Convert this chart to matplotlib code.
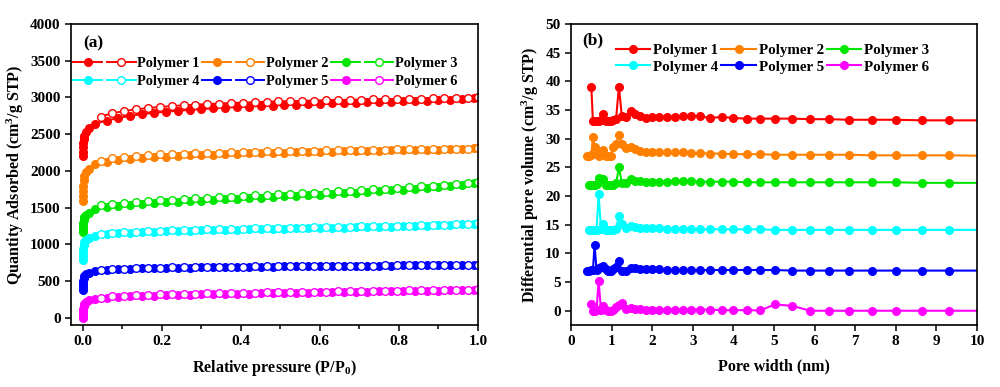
import numpy as np
import matplotlib
matplotlib.use("Agg")
import matplotlib.pyplot as plt
from matplotlib.lines import Line2D
from matplotlib.legend_handler import HandlerTuple

plt.rcParams["font.family"] = ["Liberation Serif", "DejaVu Serif"]
plt.rcParams["font.weight"] = "bold"
plt.rcParams["mathtext.fontset"] = "custom"
plt.rcParams["mathtext.rm"] = "Liberation Serif:bold"
plt.rcParams["mathtext.it"] = "Liberation Serif:bold"
plt.rcParams["mathtext.bf"] = "Liberation Serif:bold"

names = ["Polymer 1", "Polymer 2", "Polymer 3", "Polymer 4", "Polymer 5", "Polymer 6"]
colors = ["#FF0000", "#FF8000", "#00E600", "#00FFFF", "#0000FF", "#FF00FF"]

# ---- (a) N2 isotherms ----
low_p = [0.00001, 0.0001, 0.0005, 0.001, 0.002, 0.004, 0.008, 0.015]
ads_p = [0.03, 0.06, 0.09, 0.12, 0.15, 0.18, 0.21, 0.24, 0.27, 0.30, 0.33,
         0.36, 0.39, 0.42, 0.45, 0.48, 0.51, 0.54, 0.57, 0.60, 0.63, 0.66,
         0.69, 0.72, 0.75, 0.78, 0.81, 0.84, 0.87, 0.90, 0.93, 0.96, 0.99]
des_p = [0.045, 0.075, 0.105, 0.135, 0.165, 0.195, 0.225, 0.255, 0.285, 0.315,
         0.345, 0.375, 0.405, 0.435, 0.465, 0.495, 0.525, 0.555, 0.585, 0.615,
         0.645, 0.675, 0.705, 0.735, 0.765, 0.795, 0.825, 0.855, 0.885, 0.915,
         0.945, 0.975, 1.0]

low_q = [
    [2200, 2260, 2320, 2380, 2430, 2480, 2530, 2580],
    [1590, 1660, 1730, 1800, 1870, 1930, 1980, 2030],
    [1170, 1210, 1250, 1290, 1330, 1370, 1400, 1430],
    [790, 840, 890, 940, 990, 1030, 1060, 1090],
    [380, 420, 460, 500, 540, 570, 595, 615],
    [0, 40, 80, 120, 160, 190, 215, 235],
]
ads_q = [
    [2640, 2685, 2720, 2750, 2772, 2790, 2805, 2818, 2830, 2841, 2851, 2860,
     2868, 2876, 2883, 2890, 2896, 2902, 2908, 2913, 2918, 2923, 2928, 2933,
     2938, 2943, 2948, 2953, 2958, 2963, 2970, 2978, 2990],
    [2090, 2120, 2145, 2162, 2175, 2186, 2195, 2203, 2210, 2216, 2222, 2227,
     2232, 2237, 2241, 2245, 2249, 2253, 2256, 2260, 2263, 2266, 2269, 2272,
     2275, 2278, 2281, 2284, 2287, 2290, 2294, 2298, 2305],
    [1480, 1505, 1525, 1540, 1552, 1562, 1571, 1580, 1588, 1596, 1604, 1612,
     1620, 1628, 1636, 1644, 1652, 1660, 1668, 1677, 1686, 1695, 1704, 1714,
     1724, 1734, 1745, 1756, 1768, 1781, 1796, 1813, 1835],
    [1115, 1135, 1148, 1158, 1165, 1171, 1176, 1181, 1185, 1189, 1193, 1197,
     1200, 1204, 1207, 1210, 1213, 1216, 1219, 1222, 1225, 1228, 1231, 1234,
     1237, 1240, 1244, 1248, 1252, 1257, 1263, 1270, 1282],
    [635, 650, 660, 666, 671, 675, 678, 681, 684, 686, 688, 690, 692, 694,
     695, 697, 698, 700, 701, 703, 704, 705, 707, 708, 709, 710, 712, 713,
     714, 716, 717, 719, 722],
    [250, 270, 282, 290, 296, 301, 305, 309, 313, 317, 320, 323, 326, 329,
     332, 335, 338, 341, 343, 346, 348, 351, 353, 355, 358, 360, 362, 365,
     367, 370, 372, 375, 380],
]
des_q = [
    [2740, 2785, 2815, 2838, 2856, 2870, 2882, 2893, 2902, 2910, 2917, 2924,
     2930, 2936, 2941, 2946, 2950, 2954, 2958, 2962, 2965, 2968, 2971, 2974,
     2977, 2979, 2982, 2984, 2987, 2990, 2993, 2996, 3000],
    [2140, 2170, 2190, 2204, 2215, 2223, 2230, 2236, 2241, 2246, 2250, 2254,
     2258, 2261, 2264, 2267, 2270, 2273, 2275, 2278, 2280, 2283, 2285, 2287,
     2289, 2291, 2293, 2295, 2297, 2299, 2301, 2303, 2306],
    [1530, 1550, 1565, 1578, 1589, 1599, 1608, 1617, 1625, 1633, 1641, 1649,
     1657, 1665, 1673, 1681, 1689, 1697, 1705, 1713, 1721, 1730, 1739, 1748,
     1757, 1767, 1777, 1788, 1799, 1811, 1823, 1836, 1850],
    [1140, 1155, 1166, 1174, 1180, 1186, 1191, 1195, 1199, 1203, 1207, 1210,
     1213, 1216, 1219, 1222, 1225, 1228, 1231, 1234, 1237, 1240, 1243, 1246,
     1249, 1252, 1256, 1260, 1264, 1269, 1274, 1280, 1290],
    [655, 664, 670, 675, 679, 682, 685, 688, 690, 692, 694, 696, 697, 699,
     700, 702, 703, 704, 706, 707, 708, 709, 710, 711, 712, 713, 714, 715,
     716, 717, 718, 720, 724],
    [275, 290, 300, 307, 312, 317, 321, 325, 328, 331, 334, 337, 340, 343,
     345, 348, 350, 353, 355, 357, 359, 362, 364, 366, 368, 370, 372, 374,
     376, 378, 380, 382, 385],
]

# ---- (b) pore size distributions ----
nan = np.nan
psd_x = [0.40, 0.45, 0.50, 0.54, 0.58, 0.63, 0.68, 0.74, 0.80, 0.86, 0.92,
         0.98, 1.04, 1.11, 1.18, 1.25, 1.35, 1.47, 1.58, 1.70, 1.85, 2.00,
         2.17, 2.37, 2.56, 2.75, 2.95, 3.18, 3.42, 3.71, 4.00, 4.33, 4.66,
         5.02, 5.45, 5.89, 6.35, 6.85, 7.41, 8.00, 8.64, 9.32, 10.3]
psd_y = [
    [nan, nan, 39.1, 33.0, 33.0, 33.0, 33.1, 33.2, 34.3, 33.0, 33.0, 33.0,
     33.2, 33.4, 39.1, 34.0, 33.8, 34.8, 34.3, 33.9, 33.6, 33.7, 33.8, 33.8,
     33.8, 33.9, 34.0, 33.9, 33.6, 33.8, 33.6, 33.5, 33.5, 33.5, 33.5, 33.4,
     33.4, 33.3, 33.3, 33.3, 33.2, 33.2, 33.2],
    [27.0, 27.0, 27.2, 30.3, 28.6, 27.3, 27.0, 27.6, 28.1, 27.0, 27.0, 27.0,
     28.6, 29.0, 30.6, 29.0, 28.3, 28.5, 28.2, 27.8, 27.7, 27.7, 27.7, 27.6,
     27.6, 27.6, 27.5, 27.5, 27.4, 27.4, 27.3, 27.3, 27.3, 27.2, 27.2, 27.2,
     27.2, 27.2, 27.1, 27.1, 27.1, 27.1, 27.0],
    [nan, 22.0, 22.0, 22.0, 22.0, 22.1, 23.1, 23.0, 23.0, 22.0, 22.0, 22.0,
     22.0, 22.2, 25.0, 22.3, 22.3, 23.0, 22.7, 22.6, 22.5, 22.5, 22.5, 22.5,
     22.6, 22.6, 22.6, 22.5, 22.5, 22.5, 22.5, 22.4, 22.4, 22.4, 22.4, 22.4,
     22.4, 22.4, 22.4, 22.4, 22.3, 22.3, 22.3],
    [nan, 14.0, 14.0, 14.0, 14.0, 14.1, 20.3, 14.2, 15.1, 14.0, 14.0, 14.0,
     14.0, 14.3, 16.6, 15.2, 14.5, 14.8, 14.6, 14.5, 14.4, 14.4, 14.4, 14.3,
     14.3, 14.3, 14.3, 14.2, 14.2, 14.2, 14.2, 14.2, 14.2, 14.1, 14.1, 14.1,
     14.1, 14.1, 14.1, 14.1, 14.1, 14.1, 14.1],
    [7.0, 7.0, 7.1, 7.1, 11.4, 7.1, 7.4, 7.6, 7.8, 7.3, 6.9, 6.9,
     7.3, 7.6, 8.6, 7.0, 7.0, 7.4, 7.4, 7.3, 7.2, 7.2, 7.2, 7.1,
     7.1, 7.1, 7.1, 7.1, 7.1, 7.1, 7.1, 7.1, 7.1, 7.1, 7.0, 7.0,
     7.0, 7.0, 7.0, 7.0, 7.0, 7.0, 7.0],
    [nan, nan, 1.1, 0.0, 0.0, 0.1, 5.2, 0.1, 0.8, 0.1, 0.0, 0.0,
     0.1, 0.6, 1.0, 1.3, 0.3, 0.4, 0.3, 0.3, 0.2, 0.2, 0.2, 0.2,
     0.2, 0.2, 0.2, 0.2, 0.2, 0.1, 0.1, 0.1, 0.05, 1.1, 0.85, 0.0,
     0.0, 0.0, 0.0, 0.0, 0.0, 0.0, 0.0],
]


def style_axis(ax):
    for side in ["left", "right", "top", "bottom"]:
        ax.spines[side].set_linewidth(1.2)
    ax.tick_params(which="both", direction="out", width=1.1, labelsize=11)
    ax.tick_params(which="major", length=4)
    ax.tick_params(which="minor", length=3)
    ax.tick_params(top=False, right=False)


fig = plt.figure(figsize=(10, 3.87), dpi=100)
ax1 = fig.add_axes([0.071, 0.160, 0.407, 0.778])
ax2 = fig.add_axes([0.571, 0.160, 0.406, 0.778])

handles = []
for i, name in enumerate(names):
    c = colors[i]
    ax1.plot(low_p + ads_p, low_q[i] + ads_q[i], "-o", color=c, lw=1.4,
             ms=5.5, mec=c, mfc=c, mew=1.0)
    ax1.plot(des_p, des_q[i], "-o", color=c, lw=1.4, ms=5.5, mec=c,
             mfc="white", mew=1.0)
    h_ads = Line2D([], [], color=c, lw=1.4, marker="o", ms=5.5, mfc=c, mec=c)
    h_des = Line2D([], [], color=c, lw=1.4, marker="o", ms=5.5, mfc="white", mec=c)
    handles.append((h_ads, h_des))

ax1.set_xlim(-0.03, 1.0)
ax1.set_ylim(-100, 4000)
ax1.set_xticks([0.0, 0.2, 0.4, 0.6, 0.8, 1.0])
ax1.set_xticks([0.1, 0.3, 0.5, 0.7, 0.9], minor=True)
ax1.set_yticks(range(0, 4001, 500))
ax1.xaxis.set_major_formatter(matplotlib.ticker.FormatStrFormatter("%.1f"))
style_axis(ax1)
ax1.set_xlabel("Relative pressure (P/P$_0$)", fontsize=11.5, fontweight="bold", labelpad=7)
ax1.set_ylabel("Quantity Adsorbed (cm$^3$/g STP)", fontsize=11.5, fontweight="bold", labelpad=3)
ax1.text(0.054, 0.937, "(a)", transform=ax1.transAxes, ha="center", va="center",
         fontsize=12.5, fontweight="bold")

order = [0, 3, 1, 4, 2, 5]
ax1.legend([handles[k] for k in order], [names[k] for k in order], ncol=3,
           handler_map={tuple: HandlerTuple(ndivide=None, pad=0.35)},
           loc="upper left", bbox_to_anchor=(0.006, 0.89), frameon=False,
           borderpad=0, borderaxespad=0, handlelength=4.3, handletextpad=0.1,
           columnspacing=0.2, labelspacing=0.3, numpoints=1,
           prop={"family": "Liberation Serif", "weight": "bold", "size": 10.4})

for i, name in enumerate(names):
    c = colors[i]
    ax2.plot(psd_x, psd_y[i], "-o", color=c, lw=1.5, ms=5.5, mec=c, mfc=c,
             label=name)

ax2.set_xlim(0, 10)
ax2.set_ylim(-2.5, 50)
ax2.set_xticks(range(0, 11))
ax2.set_yticks(range(0, 51, 5))
style_axis(ax2)
ax2.set_xlabel("Pore width (nm)", fontsize=11.5, fontweight="bold", labelpad=7)
ax2.set_ylabel("Differential pore volume (cm$^3$/g STP)", fontsize=11.5,
               fontweight="bold", labelpad=3)
ax2.text(0.054, 0.947, "(b)", transform=ax2.transAxes, ha="center", va="center",
         fontsize=12.5, fontweight="bold")
h2, l2 = ax2.get_legend_handles_labels()
ax2.legend([h2[k] for k in order], [l2[k] for k in order], ncol=3,
           loc="upper left", bbox_to_anchor=(0.11, 0.935), frameon=False,
           borderpad=0, borderaxespad=0, handlelength=2.3, handletextpad=0.2,
           columnspacing=0.2, labelspacing=0.2, numpoints=1,
           prop={"family": "Liberation Serif", "weight": "bold", "size": 10.8})

fig.savefig("out.png", dpi=100)
